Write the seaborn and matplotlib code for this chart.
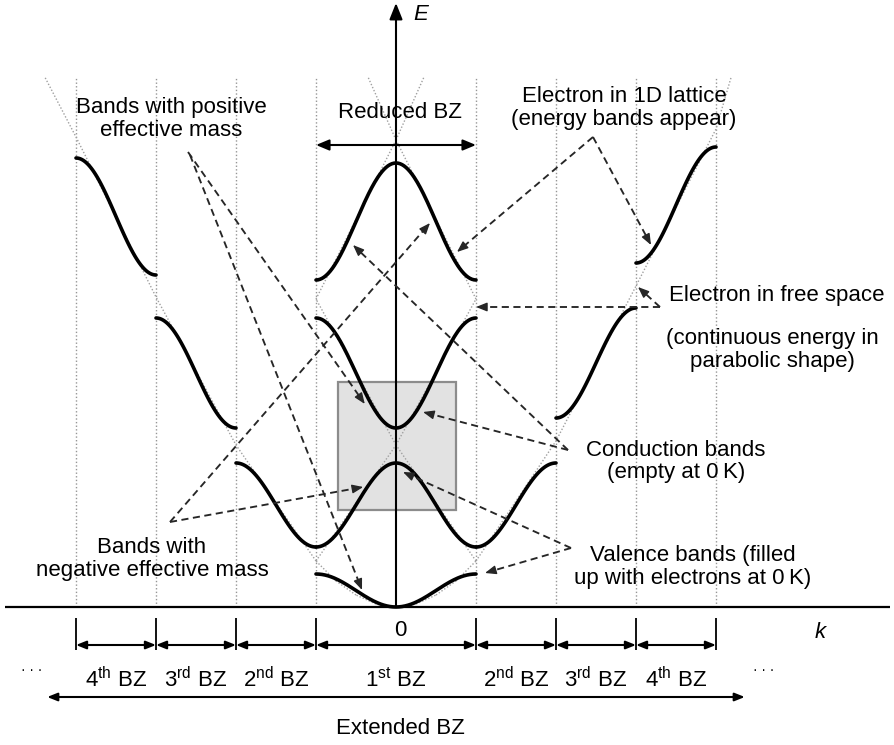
import numpy as np
import pandas as pd
import matplotlib
matplotlib.use("Agg")
import matplotlib.pyplot as plt
from matplotlib.patches import Rectangle
import seaborn as sns

sns.set_theme(style="white")
plt.rcParams["font.family"] = ["Liberation Sans", "DejaVu Sans"]
plt.rcParams["text.color"] = "black"
plt.rcParams["mathtext.fontset"] = "custom"
plt.rcParams["mathtext.rm"] = "Liberation Sans"
plt.rcParams["mathtext.it"] = "Liberation Sans:italic"

# Brillouin-zone boundaries, k in units of pi/a
zone_edges = [-4, -3, -2, -1, 1, 2, 3, 4]
zone_names = ["4th", "3rd", "2nd", "1st", "2nd", "3rd", "4th"]

# reduced zone: band energy at k = 0 and at the zone edge |k| = 1
band_ids = [1, 2, 3, 4]
band_E_center = [0, 144, 179, 444]
band_E_edge = [33, 60, 289, 327]

# extended zone: each band drawn inside its own zone
ext_band = [2, 3, 4, 2, 3, 4]
ext_k_from = [-1, -2, -3, 1, 2, 3]
ext_k_to = [-2, -3, -4, 2, 3, 4]
ext_E_from = [60, 179, 332, 60, 189, 344]
ext_E_to = [144, 289, 449, 144, 299, 460]

# free-electron dispersion (extended zone, left and right branches)
free_k_left = [-1, -2, -3, -4, -4.39]
free_E_left = [46, 162, 310, 470, 530]
free_k_right = [1, 2, 3, 4, 4.19]
free_E_right = [46, 166, 321, 478, 530]
# free-electron dispersion folded back into the first zone
free_k_red = [0, 0.25, 0.5, 0.75, 1, 2, 3, 4, 4.35]
free_E_red = [0, 3, 12, 26, 46, 162, 308, 467, 530]

FS = 16
PX = 80.0          # horizontal pixels per unit of k
DASH = "#262626"

fig = plt.figure(figsize=(8.94, 7.45), dpi=100)
ax = fig.add_axes([0, 0, 1, 1])
ax.set_xlim(-396 / PX, (894 - 396) / PX)
ax.set_ylim(607 - 745, 607)
ax.axis("off")


def s_curve(k_a, k_b, e_a, e_b, n=80):
    t = np.linspace(0.0, 1.0, n)
    return k_a + (k_b - k_a) * t, e_a + (e_b - e_a) * (1 - np.cos(np.pi * t)) / 2


# ---- band curves -------------------------------------------------------
rows = []
for b, ec, ee in zip(band_ids, band_E_center, band_E_edge):
    kl, El = s_curve(-1, 0, ee, ec)
    kr, Er = s_curve(0, 1, ec, ee)
    k = np.concatenate([kl, kr[1:]])
    E = np.concatenate([El, Er[1:]])
    rows.append(pd.DataFrame({"k": k, "E": E, "seg": f"red{b}"}))
for i, (b, ka, kb, ea, eb) in enumerate(zip(ext_band, ext_k_from, ext_k_to, ext_E_from, ext_E_to)):
    k, E = s_curve(ka, kb, ea, eb)
    rows.append(pd.DataFrame({"k": k, "E": E, "seg": f"ext{i}"}))
bands = pd.concat(rows, ignore_index=True)

# ---- free-electron lines ---------------------------------------------
frows = []
frows.append(pd.DataFrame({"k": free_k_left, "E": free_E_left, "seg": "left"}))
frows.append(pd.DataFrame({"k": free_k_right, "E": free_E_right, "seg": "right"}))
for i in range(len(free_k_red) - 1):
    ka, kb = free_k_red[i], free_k_red[i + 1]
    m = round((ka + kb) / 4)
    for sgn in (1, -1):
        frows.append(pd.DataFrame({
            "k": [sgn * (ka - 2 * m), sgn * (kb - 2 * m)],
            "E": [free_E_red[i], free_E_red[i + 1]],
            "seg": f"f{i}{sgn}"}))
free = pd.concat(frows, ignore_index=True)

# shaded window around the band gap at k = 0
ax.add_patch(Rectangle((-0.725, 97), 1.475, 128, fc="#e2e2e2", ec="#8c8c8c", lw=1.6, zorder=1))

# zone boundaries
ax.vlines(zone_edges, 0, 530, colors="#969696", linestyles=(0, (1.0, 1.6)), lw=1.0, zorder=1.5)

sns.lineplot(data=free, x="k", y="E", units="seg", estimator=None, sort=False,
             color="#a0a0a0", lw=1.0, linestyle=(0, (1.0, 1.4)), legend=False, ax=ax, zorder=2)
sns.lineplot(data=bands, x="k", y="E", units="seg", estimator=None, sort=False,
             color="black", lw=2.6, legend=False, ax=ax, zorder=4)
ax.set_xlabel("")
ax.set_ylabel("")

# ---- axes -------------------------------------------------------------
ax.plot([-391 / PX, 494 / PX], [0, 0], color="black", lw=1.6, zorder=5, solid_capstyle="butt")
ax.annotate("", xy=(0, 604), xytext=(0, 0),
            arrowprops=dict(arrowstyle="-|>,head_length=0.7,head_width=0.28", mutation_scale=14,
                            lw=1.5, color="black", shrinkA=0, shrinkB=0), zorder=5)
ax.text(0.31, 592, "E", style="italic", fontsize=FS, ha="center", va="center")
ax.text(5.3, -25, "k", style="italic", fontsize=FS, ha="center", va="center")
ax.text(0.05, -23, "0", fontsize=FS, ha="center", va="center")

# zone ticks and zone-width arrows
ax.vlines(zone_edges, -43, -11, colors="black", lw=1.3)
head = "<|-|>,head_length=0.5,head_width=0.2"
for a, b in zip(zone_edges[:-1], zone_edges[1:]):
    ax.annotate("", xy=(b, -38), xytext=(a, -38),
                arrowprops=dict(arrowstyle=head, mutation_scale=12, lw=1.5, color="black",
                                shrinkA=0, shrinkB=0))
for a, b, name in zip(zone_edges[:-1], zone_edges[1:], zone_names):
    num, sup = name[0], name[1:]
    ax.text((a + b) / 2, -73, rf"{num}$^{{\rm {sup}}}$ BZ", fontsize=FS, ha="center", va="center")
ax.text(-4.55, -63, "· · ·", fontsize=10, ha="center", va="center")
ax.text(4.6, -63, "· · ·", fontsize=10, ha="center", va="center")

# extended and reduced zone spans
ax.annotate("", xy=(4.36, -90), xytext=(-4.36, -90),
            arrowprops=dict(arrowstyle=head, mutation_scale=12, lw=1.5, color="black",
                            shrinkA=0, shrinkB=0))
ax.text(0.05, -121, "Extended BZ", fontsize=FS, ha="center", va="center")
ax.annotate("", xy=(1, 462), xytext=(-1, 462),
            arrowprops=dict(arrowstyle="<|-|>,head_length=0.6,head_width=0.25", mutation_scale=13,
                            lw=1.5, color="black", shrinkA=0, shrinkB=0))
ax.text(0.05, 494, "Reduced BZ", fontsize=FS, ha="center", va="center")


# ---- dashed call-out arrows ----------------------------------------------
def dashed_arrow(p0, p1, hl=9.0):
    x0, y0 = p0
    x1, y1 = p1
    dx, dy = (x1 - x0) * PX, (y1 - y0)
    L = np.hypot(dx, dy)
    ux, uy = dx / L, dy / L
    ax.plot([x0, x1 - ux * hl / PX], [y0, y1 - uy * hl], ls=(0, (3.8, 2.4)), lw=1.35,
            color=DASH, zorder=6)
    ax.annotate("", xy=p1, xytext=(x1 - ux * (hl + 1) / PX, y1 - uy * (hl + 1)),
                arrowprops=dict(arrowstyle="-|>,head_length=0.55,head_width=0.22",
                                mutation_scale=12, lw=1.0, color=DASH, shrinkA=0, shrinkB=0),
                zorder=6)


# positive effective mass (band minima)
dashed_arrow((-2.6, 455), (-0.39, 203))
dashed_arrow((-2.575, 452), (-0.425, 17))
# negative effective mass (band maxima)
dashed_arrow((-2.825, 85), (0.425, 384))
dashed_arrow((-2.825, 85), (-0.41, 120))
# electron in a 1D lattice
dashed_arrow((2.4625, 470), (0.7625, 355))
dashed_arrow((2.4625, 470), (3.1875, 362))
# electron in free space
dashed_arrow((3.3, 300), (1.0, 300))
dashed_arrow((3.3, 300), (3.025, 320))
# conduction bands
dashed_arrow((2.15, 157), (-0.5375, 362))
dashed_arrow((2.15, 157), (0.3375, 195))
# valence bands
dashed_arrow((2.1875, 59), (0.0875, 135))
dashed_arrow((2.1875, 59), (1.1125, 34))

# ---- labels -------------------------------------------------------------
lab = dict(fontsize=FS, ha="center", va="center", linespacing=1.12, zorder=7)
ax.text(-2.81, 488, "Bands with positive\neffective mass", **lab)
ax.text(2.85, 499, "Electron in 1D lattice\n(energy bands appear)", **lab)
ax.text(4.7625, 312, "Electron in free space", **lab)
ax.text(4.71, 257, "(continuous energy in\nparabolic shape)", **lab)
ax.text(3.5, 145.5, "Conduction bands\n(empty at 0\u2009K)", **lab)
ax.text(3.71, 40, "Valence bands (filled\nup with electrons at 0\u2009K)", **lab)
ax.text(-3.05, 48, "Bands with\nnegative effective mass", **lab)

fig.savefig("out.png", dpi=100)
